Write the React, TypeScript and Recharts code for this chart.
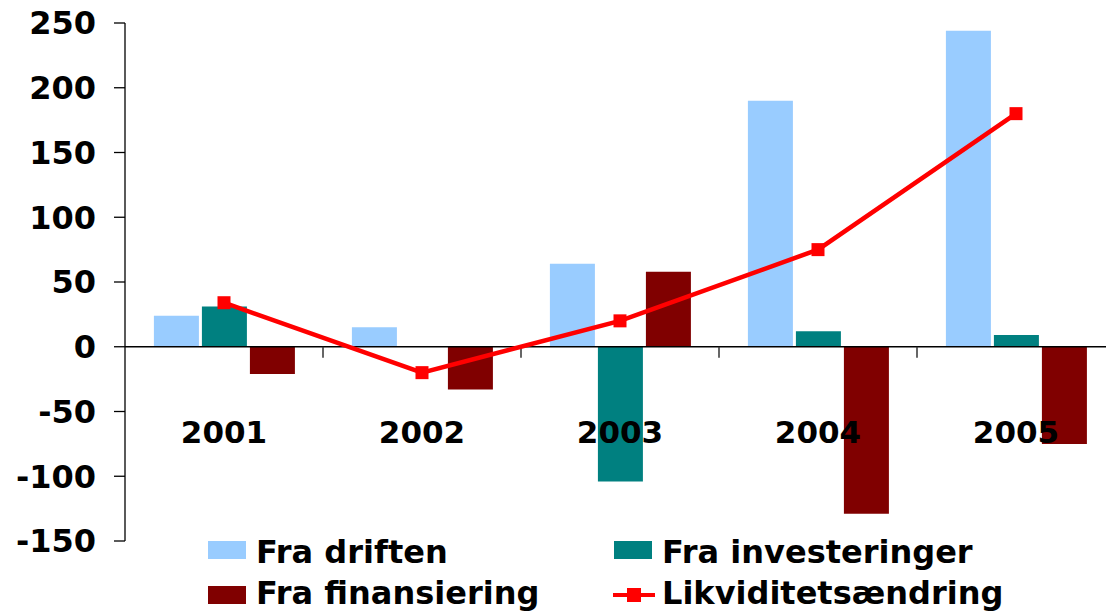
import React from 'react';
import { ComposedChart, Bar, Line, XAxis, YAxis, ReferenceLine, Legend } from 'recharts';

const years = ['2001', '2002', '2003', '2004', '2005'];
const fraDriften = [24, 15, 64, 190, 244];
const fraInvesteringer = [31, 0, -104, 12, 9];
const fraFinansiering = [-21, -33, 58, -129, -75];
const likviditetsaendring = [34, -20, 20, 75, 180];
const yTicks = [-150, -100, -50, 0, 50, 100, 150, 200, 250];
const boundaryYears = ['2002', '2003', '2004', '2005'];

const COL_DRIFT = '#99CCFF';
const COL_INV = '#008080';
const COL_FIN = '#800000';
const COL_LIKV = '#FF0000';
const FONT = '"DejaVu Sans", Verdana, sans-serif';

const data = years.map((y, i) => ({
  year: y,
  drift: fraDriften[i],
  inv: fraInvesteringer[i],
  fin: fraFinansiering[i],
  likv: likviditetsaendring[i],
}));

const legendItems = [
  { label: 'Fra driften', color: COL_DRIFT, type: 'rect', col: 0, row: 0 },
  { label: 'Fra investeringer', color: COL_INV, type: 'rect', col: 1, row: 0 },
  { label: 'Fra finansiering', color: COL_FIN, type: 'rect', col: 0, row: 1 },
  { label: 'Likviditetsændring', color: COL_LIKV, type: 'line', col: 1, row: 1 },
];

const SquareDot = (props: any) => {
  const { cx, cy } = props;
  if (cx == null || cy == null) return null;
  return <rect x={cx - 6.5} y={cy - 6.5} width={13} height={13} fill={COL_LIKV} />;
};

const YearTick = (props: any) => {
  const { x, y, payload } = props;
  return (
    <text
      x={x}
      y={y - 98}
      textAnchor="middle"
      fill="#000"
      fontSize={31}
      fontWeight="bold"
      fontFamily={FONT}
    >
      {payload.value}
    </text>
  );
};

const LegendContent = () => (
  <svg width={1106} height={84} style={{ display: 'block' }}>
    {legendItems.map((it) => {
      const sx = it.col === 0 ? 208 : 614;
      const tx = it.col === 0 ? 256 : 662;
      const baseY = it.row === 0 ? 35 : 76;
      const swTop = it.row === 0 ? 13 : 58;
      return (
        <g key={it.label}>
          {it.type === 'rect' ? (
            <rect x={sx} y={swTop} width={38} height={18} fill={it.color} />
          ) : (
            <g>
              <line x1={sx - 1} y1={swTop + 9} x2={sx + 41} y2={swTop + 9} stroke={it.color} strokeWidth={4} />
              <rect x={sx + 20 - 7} y={swTop + 2} width={14} height={14} fill={it.color} />
            </g>
          )}
          <text x={tx} y={baseY} fill="#000" fontSize={32} fontWeight="bold" fontFamily={FONT}>
            {it.label}
          </text>
        </g>
      );
    })}
  </svg>
);

export default function App() {
  return (
    <div
      style={{
        position: 'absolute',
        left: 0,
        top: 0,
        width: 1106,
        height: 612,
        overflow: 'hidden',
        background: '#fff',
      }}
    >
      <ComposedChart
        width={1120}
        height={612}
        data={data}
        margin={{ top: 23, right: 5, bottom: 41, left: 0 }}
        barCategoryGap="14.6%"
        barGap={3}
      >
        <XAxis
          dataKey="year"
          axisLine={false}
          tickLine={false}
          tickSize={0}
          tickMargin={0}
          height={30}
          tick={<YearTick />}
          interval={0}
        />
        <YAxis
          domain={[-150, 250]}
          ticks={yTicks}
          interval={0}
          width={125}
          axisLine={{ stroke: '#000', strokeWidth: 1.3 }}
          tickLine={{ stroke: '#000', strokeWidth: 1.3 }}
          tickSize={11}
          tickMargin={18}
          tick={{ fill: '#000', fontSize: 32, fontWeight: 'bold', fontFamily: FONT }}
        />
        <Bar dataKey="drift" name="Fra driften" fill={COL_DRIFT} isAnimationActive={false} />
        <Bar dataKey="inv" name="Fra investeringer" fill={COL_INV} isAnimationActive={false} />
        <Bar dataKey="fin" name="Fra finansiering" fill={COL_FIN} isAnimationActive={false} />
        <ReferenceLine y={0} stroke="#000" strokeWidth={1.5} />
        {boundaryYears.map((yr) => (
          <ReferenceLine
            key={yr}
            segment={[{ x: yr, y: 0 }, { x: yr, y: -8.5 }]}
            position="start"
            stroke="#333"
            strokeWidth={1.5}
          />
        ))}
        <Line
          dataKey="likv"
          name="Likviditetsændring"
          stroke={COL_LIKV}
          strokeWidth={4.5}
          dot={<SquareDot />}
          activeDot={false}
          isAnimationActive={false}
        />
        <Legend
          layout="vertical"
          align="center"
          verticalAlign="middle"
          content={<LegendContent />}
          wrapperStyle={{ position: 'absolute', left: 0, top: 528, width: 1106, height: 84 }}
        />
      </ComposedChart>
    </div>
  );
}
